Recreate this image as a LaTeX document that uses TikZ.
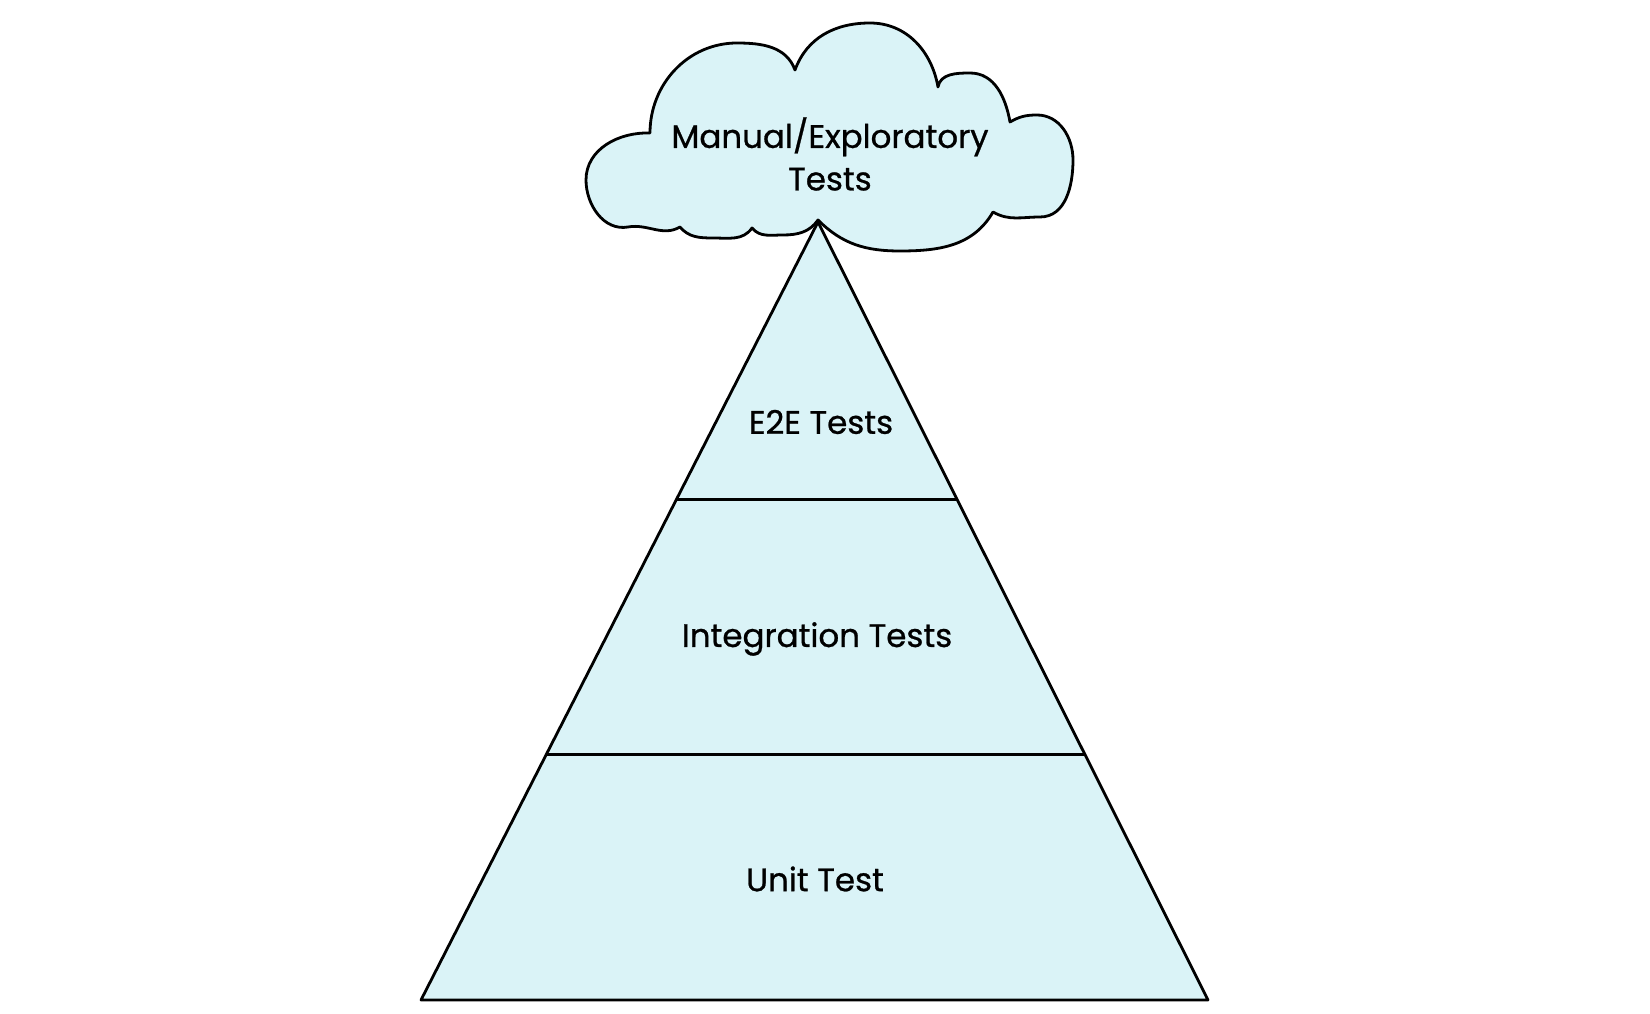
\documentclass[tikz,border=0pt]{standalone}
\usepackage{fontspec}
\setmainfont{Poppins}
\newfontfamily\layerfont{Poppins}[FakeBold=0.8]
\usetikzlibrary{calc}
\definecolor{paleblue}{RGB}{218,243,247}
\begin{document}
\begin{tikzpicture}[x=1pt, y=1pt, line join=round, line width=2.8pt,
  layer label/.style={font=\layerfont\fontsize{32.5}{42.5}\selectfont, inner sep=0pt},
  cloud line/.style={draw=black, fill=paleblue},
  layer line/.style={draw=black}]
\useasboundingbox (0,0) rectangle (1650,1013);
% cloud on top
\begin{scope}
\draw[cloud line] (650,880)
  to[out=178,in=90] (586,833) to[out=270,in=190] (628,786)
  to[out=10,in=210] (680,786)
  to[out=-50,in=180] (713,775) to[out=0,in=235] (752,785)
  to[out=-50,in=180] (783,778) to[out=0,in=235] (818,793)
  to[out=-45,in=180] (900,762) to[out=0,in=240] (993,801)
  to[out=-30,in=180] (1040,796) to[out=0,in=270] (1073,853)
  to[out=90,in=0] (1037,898) to[out=180,in=30] (1010,891)
  to[out=100,in=0] (970,940) to[out=180,in=80] (938,926)
  to[out=100,in=0] (870,990) to[out=180,in=70] (795,943)
  to[out=110,in=0] (737,970) to[out=180,in=90] cycle;
\node[layer label, align=center] (v0) at (830,859) {Manual/Exploratory\\Tests};
\end{scope}
% pyramid
\begin{scope}
\coordinate (apex) at (818,791);
\coordinate (bl) at (421,13);
\coordinate (br) at (1208,13);
\coordinate (l1) at ($(apex)!0.3565!(bl)$);
\coordinate (r1) at ($(apex)!0.3565!(br)$);
\coordinate (l2) at ($(apex)!0.6847!(bl)$);
\coordinate (r2) at ($(apex)!0.6847!(br)$);
\draw[layer line, fill=paleblue] (apex) -- (bl) -- (br) -- cycle;
\draw[layer line] (l1) -- (r1);
\draw[layer line] (l2) -- (r2);
\node[layer label] (v1) at (821,591) {E2E Tests};
\node[layer label] (v2) at (817,374) {Integration Tests};
\node[layer label] (v3) at (815,134) {Unit Test};
\end{scope}
\end{tikzpicture}
\end{document}
